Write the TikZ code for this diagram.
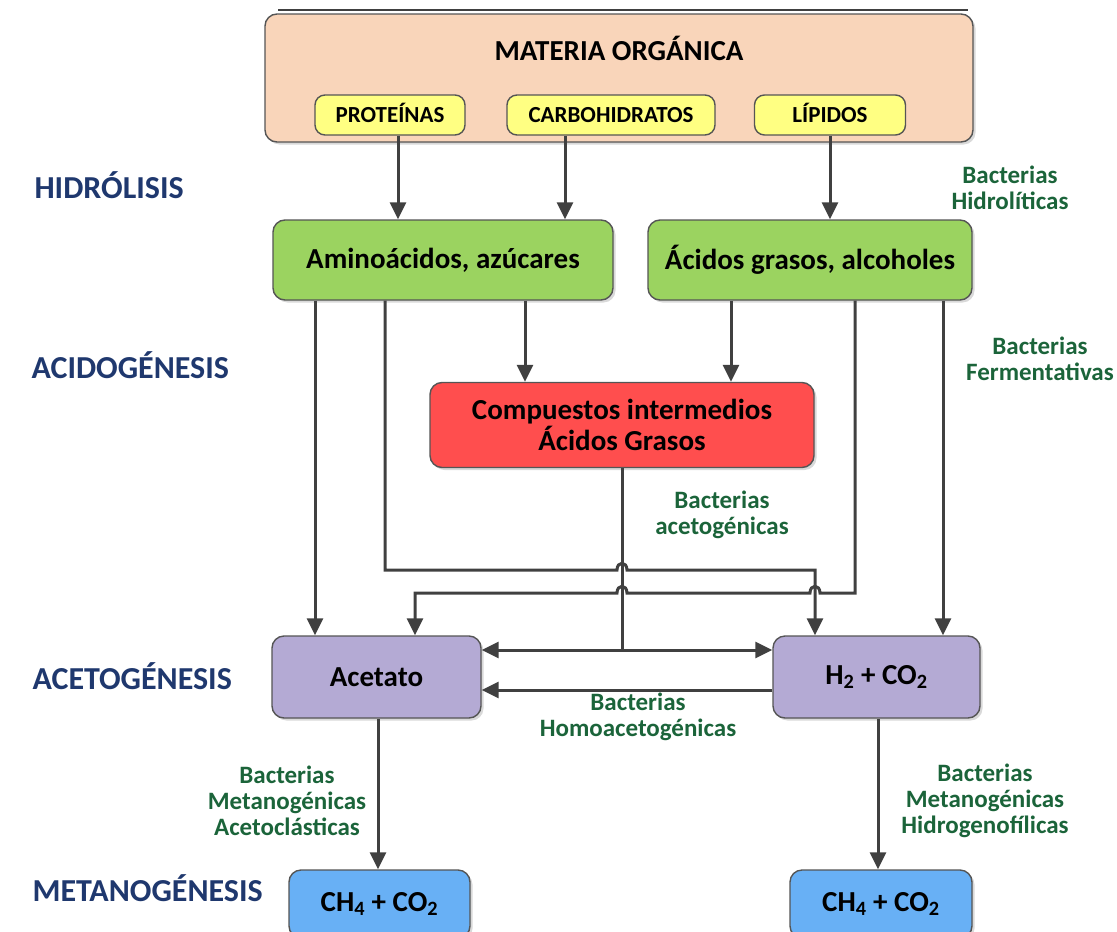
\documentclass[tikz,border=0pt]{standalone}
\usepackage{fontspec}
\setmainfont{Carlito}
\usetikzlibrary{arrows.meta,shadows}
\definecolor{peach}{RGB}{249,213,186}
\definecolor{yellowbox}{RGB}{255,255,130}
\definecolor{greenbox}{RGB}{155,211,96}
\definecolor{redbox}{RGB}{255,78,78}
\definecolor{lilac}{RGB}{180,170,212}
\definecolor{bluebox}{RGB}{104,176,245}
\definecolor{boxline}{RGB}{85,85,85}
\definecolor{flowgray}{RGB}{64,64,64}
\definecolor{navy}{RGB}{31,56,110}
\definecolor{bactgreen}{RGB}{27,100,58}
\begin{document}
\begin{tikzpicture}[x=1pt,y=-1pt,
    box/.style={draw=boxline,line width=1.4pt,rounded corners=12pt,inner sep=0pt,align=center,
      font=\bfseries\fontsize{29}{31}\selectfont,
      drop shadow={shadow xshift=2.5pt,shadow yshift=-2.5pt,opacity=0.3}},
    tag/.style={draw=boxline,line width=1.4pt,rounded corners=10pt,fill=yellowbox,inner sep=0pt,
      minimum height=40pt,text height=15pt,text depth=0pt,font=\bfseries\fontsize{23}{26}\selectfont},
    stage/.style={anchor=west,text=navy,font=\bfseries\fontsize{32}{34}\selectfont},
    bact/.style={text=bactgreen,align=center,font=\bfseries\fontsize{25}{26}\selectfont},
    flow/.style={draw=flowgray,line width=3pt,-{Triangle[length=17pt,width=16pt]}},
    wire/.style={draw=flowgray,line width=3pt}]
    \useasboundingbox (0,0) rectangle (1117,932);
    \draw[flowgray,line width=1.8pt] (278,10) -- (968,10);
    % boxes
    \node (mo) at (619,78) [box,fill=peach,minimum width=708pt,minimum height=128pt] {};
    \node (motitle) at (619,48) [font=\bfseries\fontsize{29}{31}\selectfont] {MATERIA ORGÁNICA};
    \node (prot) at (390,115) [tag,minimum width=150pt] {PROTEÍNAS};
    \node (carb) at (611,115) [tag,minimum width=208pt] {CARBOHIDRATOS};
    \node (lip) at (830,115) [tag,minimum width=151pt] {LÍPIDOS};
    \node (amino) at (443,260) [box,fill=greenbox,minimum width=340pt,minimum height=80pt] {Aminoácidos, azúcares};
    \node (acgr) at (810,260) [box,fill=greenbox,minimum width=324pt,minimum height=80pt] {Ácidos grasos, alcoholes};
    \node (inter) at (622,425) [box,fill=redbox,minimum width=384pt,minimum height=85pt] {Compuestos intermedios\\Ácidos Grasos};
    \node (acet) at (376.5,677) [box,fill=lilac,minimum width=209pt,minimum height=82pt] {Acetato};
    \node (hco) at (876.5,677) [box,fill=lilac,minimum width=207pt,minimum height=82pt] {H\textsubscript{2} + CO\textsubscript{2}};
    \node (ch4a) at (379.5,904) [box,fill=bluebox,minimum width=181pt,minimum height=68pt] {CH\textsubscript{4} + CO\textsubscript{2}};
    \node (ch4b) at (881,904) [box,fill=bluebox,minimum width=182pt,minimum height=68pt] {CH\textsubscript{4} + CO\textsubscript{2}};
    % stages
    \node (lhid) at (31,185) [stage] {HIDRÓLISIS};
    \node (lacid) at (28,365) [stage] {ACIDOGÉNESIS};
    \node (lacet) at (29,676) [stage] {ACETOGÉNESIS};
    \node (lmet) at (29,888) [stage] {METANOGÉNESIS};
    % bacteria
    \node (bhid) at (1010,188) [bact] {Bacterias\\Hidrolíticas};
    \node (bferm) at (1040,359) [bact] {Bacterias\\Fermentativas};
    \node (baceto) at (722,515) [bact] {Bacterias\\acetogénicas};
    \node (bhomo) at (638,717) [bact] {Bacterias\\Homoacetogénicas};
    \node (bmeta) at (287,801) [bact] {Bacterias\\Metanogénicas\\Acetoclásticas};
    \node (bmetb) at (985,801) [bact] {Bacterias\\Metanogénicas\\Hidrogenofílicas};
    % flows
    \draw[flow] (398,0 |- prot.south) -- (398,0 |- amino.north);
    \draw[flow] (565,0 |- carb.south) -- (565,0 |- amino.north);
    \draw[flow] (830,0 |- lip.south) -- (830,0 |- acgr.north);
    \draw[flow] (315,0 |- amino.south) -- (315,0 |- acet.north);
    \draw[flow] (525,0 |- amino.south) -- (525,0 |- inter.north);
    \draw[flow] (731,0 |- acgr.south) -- (731,0 |- inter.north);
    \draw[flow] (943,0 |- acgr.south) -- (943,0 |- hco.north);
    \coordinate (split) at (622,650);
    \draw[wire] (inter.south) -- (split);
    \draw[flow] (385,0 |- amino.south) -- (385,570) -- (617,570)
      .. controls (617,561) and (627,561) .. (627,570) -- (815,570) -- (815,0 |- hco.north);
    \draw[flow] (855,0 |- acgr.south) -- (855,593) -- (820,593)
      .. controls (820,584) and (810,584) .. (810,593) -- (627,593)
      .. controls (627,584) and (617,584) .. (617,593) -- (415,593) -- (415,0 |- acet.north);
    \draw[flow] (split) -- (split -| acet.east);
    \draw[flow] (split) -- (split -| hco.west);
    \draw[flow] (hco.west |- 0,690) -- (acet.east |- 0,690);
    \draw[flow] (378,0 |- acet.south) -- (378,0 |- ch4a.north);
    \draw[flow] (878,0 |- hco.south) -- (878,0 |- ch4b.north);
\end{tikzpicture}
\end{document}
